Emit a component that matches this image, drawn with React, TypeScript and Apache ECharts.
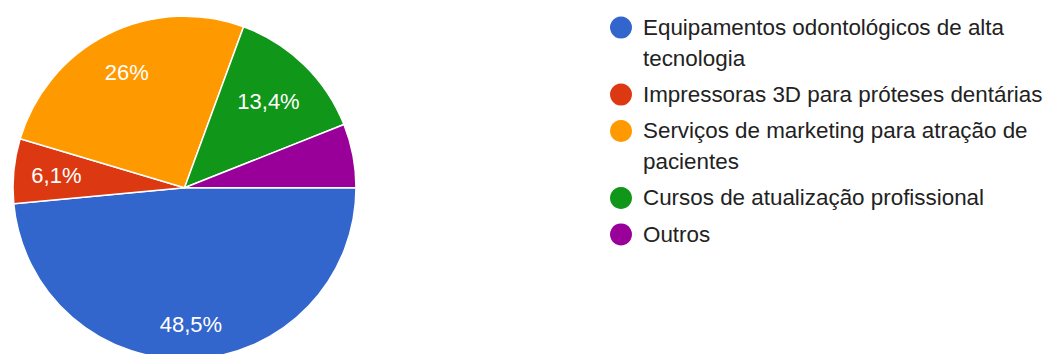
import React, { useEffect, useRef } from "react";
import * as echarts from "echarts";

const categories = [
  "Equipamentos odontológicos de alta tecnologia",
  "Impressoras 3D para próteses dentárias",
  "Serviços de marketing para atração de pacientes",
  "Cursos de atualização profissional",
  "Outros",
];
const values = [48.5, 6.1, 26, 13.4, 6.0];
const colors = ["#3366CC", "#DC3912", "#FF9900", "#109618", "#990099"];
const legendLineCounts = [2, 1, 2, 1, 1];

const FONT = "'Liberation Sans', Arial, Helvetica, sans-serif";

export default function App() {
  const ref = useRef<HTMLDivElement>(null);

  useEffect(() => {
    if (!ref.current) return;
    const chart = echarts.init(ref.current, undefined, { renderer: "svg" });

    const center = [184.5, 187.7];
    const R = 171.5;

    const pieData = categories.map((name, i) => ({
      name,
      value: values[i],
      itemStyle: { color: colors[i] },
    }));

    // label placement groups: slice indices and the radius at which their labels sit
    const labelGroups = [
      { idx: [0], mid: 134.4 },
      { idx: [1, 2], mid: 125.7 },
      { idx: [3], mid: 117.3 },
    ];

    const labelSeries = labelGroups.map((g) => ({
      type: "pie",
      center,
      radius: [2 * g.mid - R, R],
      startAngle: 0,
      clockwise: true,
      silent: true,
      itemStyle: { color: "rgba(0,0,0,0)", borderWidth: 0 },
      labelLine: { show: false },
      label: {
        show: true,
        position: "inside",
        color: "#ffffff",
        fontSize: 22,
        fontFamily: FONT,
        fontWeight: "normal",
        formatter: (p: any) => `${String(p.value).replace(".", ",")}%`,
      },
      data: categories.map((name, i) => ({
        name,
        value: values[i],
        label: { show: g.idx.includes(i) },
      })),
    }));

    // legend built with graphic elements
    const graphics: any[] = [];
    let y = 27.6;
    const lineH = 30.6;
    categories.forEach((name, i) => {
      graphics.push({
        type: "circle",
        shape: { cx: 621, cy: y, r: 11 },
        style: { fill: colors[i] },
        silent: true,
      });
      graphics.push({
        type: "text",
        x: 643,
        y: y - lineH / 2,
        style: {
          text: name,
          font: `22.4px ${FONT}`,
          fill: "#222222",
          lineHeight: lineH,
          verticalAlign: "top",
          align: "left",
          width: 425,
          overflow: "break",
        },
        silent: true,
      });
      y += 36.4 + lineH * (legendLineCounts[i] - 1);
    });

    chart.setOption({
      animation: false,
      backgroundColor: "#ffffff",
      graphic: graphics,
      series: [
        {
          type: "pie",
          center,
          radius: R,
          startAngle: 0,
          clockwise: true,
          silent: true,
          label: { show: false },
          labelLine: { show: false },
          itemStyle: { borderColor: "#ffffff", borderWidth: 1.5 },
          data: pieData,
        },
        ...labelSeries,
      ],
    });

    return () => chart.dispose();
  }, []);

  return (
    <div
      ref={ref}
      style={{
        position: "fixed",
        left: 0,
        top: 0,
        width: 1048,
        height: 354,
        background: "#fff",
      }}
    />
  );
}
